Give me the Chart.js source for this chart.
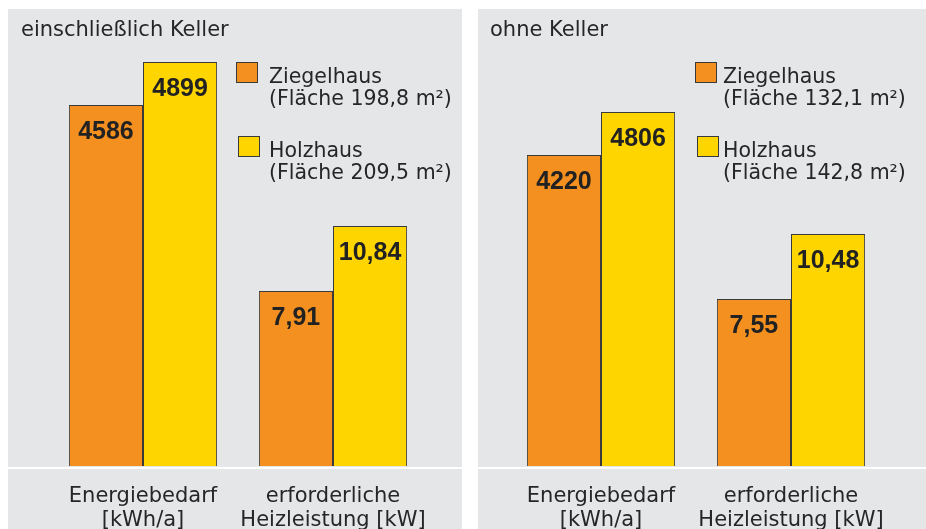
<!DOCTYPE html>
<html>
<head>
<meta charset="utf-8">
<script src="https://cdn.jsdelivr.net/npm/chart.js@4.4.0/dist/chart.umd.min.js"></script>
<style>
html, body { margin:0; padding:0; background:#fff; }
body { width:926px; height:529px; position:relative; overflow:hidden; }
.panel { position:absolute; top:9px; height:520px; }
#p1 { left:8px; width:454px; }
#p2 { left:478px; width:448px; }
</style>
</head>
<body>
<div class="panel" id="p1"><canvas id="c1" width="454" height="520"></canvas></div>
<div class="panel" id="p2"><canvas id="c2" width="448" height="520"></canvas></div>
<script>
// data
var categories = [["Energiebedarf", "[kWh/a]"], ["erforderliche", "Heizleistung [kW]"]];
var houses = ["Ziegelhaus", "Holzhaus"];
var colors = ["#f39020", "#ffd500"];

// einschließlich Keller
var ziegelMitKeller = [4586, 7.91];
var holzMitKeller = [4899, 10.84];
var flaecheMitKeller = ["198,8", "209,5"];

// ohne Keller
var ziegelOhneKeller = [4220, 7.55];
var holzOhneKeller = [4806, 10.48];
var flaecheOhneKeller = ["132,1", "142,8"];

var textColor = "#262626";
var textFont = "21px 'DejaVu Sans'";
var legendFont = "20.5px 'DejaVu Sans'";

function fmt(v) {
	if(v < 100) return v.toFixed(2).replace(".", ",");
	return String(v);
}

// je Kategorie eigene Achse (kWh/a und kW)
function makeDatasets(z, h) {
	var sets = [];
	for(var c=0; c<categories.length; c++) {
		var vals = [z, h];
		for(var k=0; k<houses.length; k++) {
			var d = [null, null];
			d[c] = vals[k][c];
			sets.push({
				label: houses[k],
				data: d,
				yAxisID: c == 0 ? "yE" : "yH",
				backgroundColor: colors[k],
				borderColor: "#3a3a3a",
				borderWidth: 1,
				skipNull: true
			});
		}
	}
	return sets;
}

var deco = {
	id: "deco",
	beforeDraw: function(chart, args, opt) {
		var c = chart.ctx;
		c.save();
		c.fillStyle = "#e5e6e8";
		c.fillRect(0, 0, chart.width, chart.height);
		c.fillStyle = "#ffffff";
		c.fillRect(0, chart.chartArea.bottom + 1, chart.width, 2);
		c.restore();
	},
	afterDatasetsDraw: function(chart) {
		var c = chart.ctx;
		c.save();
		c.font = "bold 25px 'Liberation Sans'";
		c.fillStyle = "#222";
		c.textAlign = "center";
		c.textBaseline = "alphabetic";
		chart.data.datasets.forEach(function(ds, i) {
			var meta = chart.getDatasetMeta(i);
			meta.data.forEach(function(bar, j) {
				if(ds.data[j] == null) return;
				c.fillText(fmt(ds.data[j]), bar.x, bar.y + 34);
			});
		});
		c.restore();
	},
	afterDraw: function(chart, args, opt) {
		var c = chart.ctx;
		c.save();
		c.font = textFont;
		c.fillStyle = textColor;
		c.textBaseline = "alphabetic";
		c.fillText(opt.title, opt.titleX, 27);
		c.font = legendFont;
		for(var k=0; k<houses.length; k++) {
			var sy = k == 0 ? 53 : 127;
			c.fillStyle = colors[k];
			c.fillRect(opt.boxX + k*2, sy, 22, 21);
			c.strokeStyle = "#3a3a3a";
			c.lineWidth = 1;
			c.strokeRect(opt.boxX + k*2 + 0.5, sy + 0.5, 21, 20);
			c.fillStyle = textColor;
			c.fillText(houses[k], opt.textX, sy + 21);
			c.fillText("(Fläche " + opt.areas[k] + " m²)", opt.textX, sy + 43);
		}
		c.restore();
	}
};

function makeChart(id, z, h, eMin, eMax, pad, deco_opt) {
	return new Chart(document.getElementById(id), {
		type: "bar",
		data: {
			labels: categories,
			datasets: makeDatasets(z, h)
		},
		options: {
			responsive: false,
			animation: false,
			categoryPercentage: 0.78,
			barPercentage: 1,
			layout: { padding: pad },
			plugins: {
				legend: { display: false },
				tooltip: { enabled: false },
				deco: deco_opt
			},
			scales: {
				x: {
					grid: { display: false },
					border: { display: false },
					ticks: {
						color: textColor,
						font: { family: "DejaVu Sans", size: 21, lineHeight: 1.15 },
						padding: 10,
						maxRotation: 0,
						autoSkip: false
					},
					afterFit: function(scale) { scale.height = 63; }
				},
				yE: { display: false, min: eMin, max: eMax },
				yH: { display: false, min: 0, max: 20.65 }
			}
		},
		plugins: [deco]
	});
}

var chart = [];
chart[0] = makeChart("c1", ziegelMitKeller, holzMitKeller, 1958, 5285,
	{ left: 40, right: 34, top: 0, bottom: 0 },
	{ title: "einschließlich Keller", titleX: 13, boxX: 228, textX: 261, areas: flaecheMitKeller });
chart[1] = makeChart("c2", ziegelOhneKeller, holzOhneKeller, 0, 6203,
	{ left: 28, right: 40, top: 0, bottom: 0 },
	{ title: "ohne Keller", titleX: 12, boxX: 217, textX: 245, areas: flaecheOhneKeller });
</script>
</body>
</html>
